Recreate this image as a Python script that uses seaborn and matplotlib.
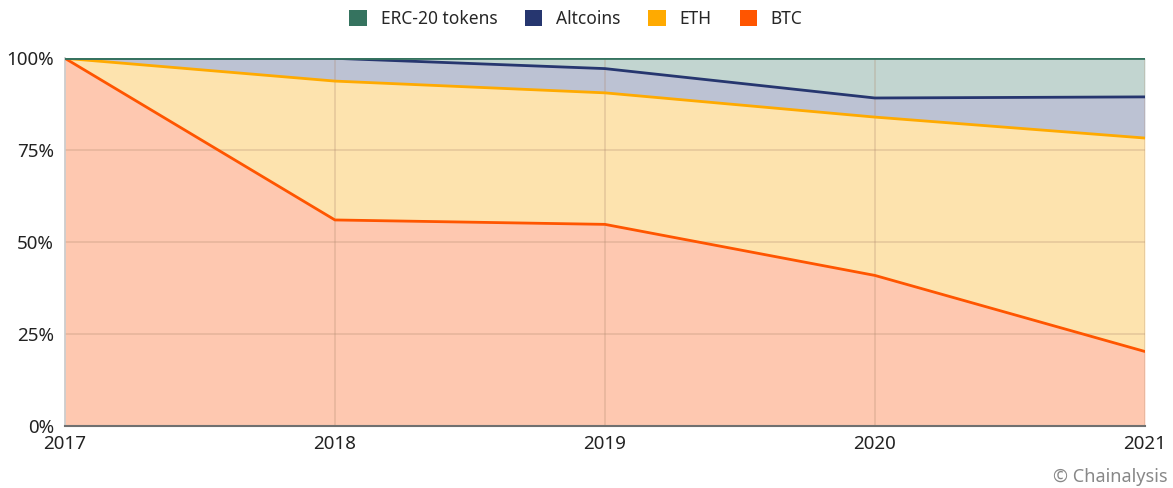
import matplotlib
matplotlib.use("Agg")
import matplotlib.pyplot as plt
import numpy as np
import pandas as pd
import seaborn as sns
from matplotlib.ticker import PercentFormatter
from matplotlib.patches import Patch

# Yıllara göre paylar (%)
yillar = [2017, 2018, 2019, 2020, 2021]
btc = [100.0, 56.0, 54.8, 40.9, 20.2]
eth = [0.0, 37.8, 35.8, 43.1, 58.1]
altcoins = [0.0, 6.2, 6.6, 5.2, 11.2]
erc20 = [0.0, 0.0, 2.8, 10.8, 10.5]

seriler = ["BTC", "ETH", "Altcoins", "ERC-20 tokens"]
degerler = [btc, eth, altcoins, erc20]
cizgi_renk = {"BTC": "#ff5500", "ETH": "#ffaa00", "Altcoins": "#26366f", "ERC-20 tokens": "#35735f"}
dolgu_renk = {"BTC": "#fec8b0", "ETH": "#fde3ae", "Altcoins": "#bcc2d3", "ERC-20 tokens": "#c2d5d0"}

# kümülatif tablo
kum = np.cumsum(np.array(degerler), axis=0)
satirlar = []
for i, s in enumerate(seriler):
    for y, v in zip(yillar, kum[i]):
        satirlar.append({"yil": y, "seri": s, "ust": v})
df = pd.DataFrame(satirlar)

sns.set_theme(style="white")
plt.rcParams["font.family"] = ["Noto Sans", "DejaVu Sans"]

fig = plt.figure(figsize=(11.73, 4.88), dpi=100)
ax = fig.add_axes([0.0554, 0.1277, 0.9206, 0.7528])

alt = np.zeros(len(yillar))
for i, s in enumerate(seriler):
    ax.fill_between(yillar, alt, kum[i], color=dolgu_renk[s], lw=0, zorder=1)
    alt = kum[i]

# ızgara
for y in [25, 50, 75]:
    ax.axhline(y, color="#b08a70", alpha=0.3, lw=1.2, zorder=2)
for x in yillar[1:]:
    ax.axvline(x, color="#b08a70", alpha=0.3, lw=1.2, zorder=2)

sns.lineplot(data=df, x="yil", y="ust", hue="seri", hue_order=seriler,
             palette=cizgi_renk, lw=2.0, ax=ax, legend=False, zorder=3)

ax.set_xlim(2017, 2021)
ax.set_ylim(0, 100)
ax.set_xticks(yillar)
ax.set_xticklabels([str(y) for y in yillar])
ax.set_yticks([0, 25, 50, 75, 100])
ax.yaxis.set_major_formatter(PercentFormatter(decimals=0))
ax.set_xlabel("")
ax.set_ylabel("")
ax.tick_params(axis="both", labelsize=13.5, colors="#222222", length=0)
ax.tick_params(axis="y", pad=8)
ax.tick_params(axis="x", pad=7)

for k in ["top", "right"]:
    ax.spines[k].set_visible(False)
ax.spines["left"].set_color("#c8c8c8")
ax.spines["left"].set_linewidth(1.2)
ax.spines["bottom"].set_color("#707070")
ax.spines["bottom"].set_linewidth(1.5)
ax.spines["bottom"].set_zorder(4)

# açıklama
tutamac = [Patch(facecolor=cizgi_renk[s], edgecolor="none", label=s) for s in seriler[::-1]]
fig.legend(handles=tutamac, loc="upper center", bbox_to_anchor=(0.491, 1.012), ncol=4,
           frameon=False, fontsize=12.5, handlelength=1.0, handleheight=1.0,
           handletextpad=0.8, columnspacing=1.6)

fig.text(0.995, 0.004, "© Chainalysis", ha="right", va="bottom", fontsize=13, color="#888888")

fig.savefig("out.png", dpi=100)
plt.close(fig)
